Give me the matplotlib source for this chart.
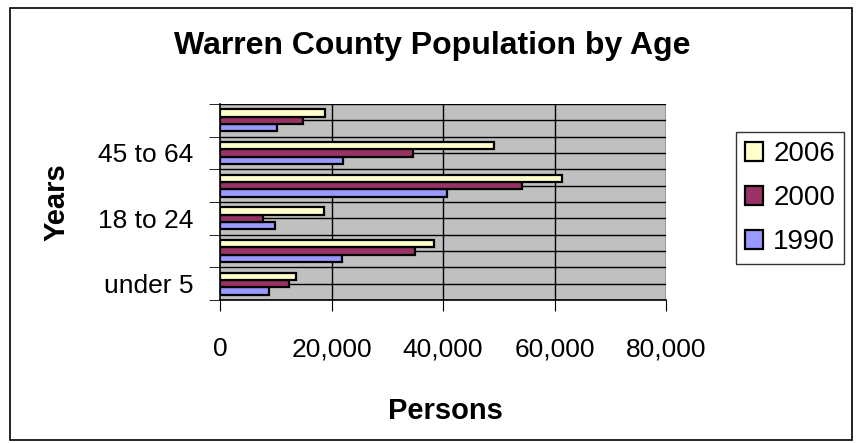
import numpy as np
import matplotlib.pyplot as plt
from matplotlib.patches import Rectangle

plt.rcParams['font.family'] = ['Liberation Sans', 'DejaVu Sans']

# ---- data ----
age_groups = ['under 5', '5 to 17', '18 to 24', '25 to 44', '45 to 64', '65+']
shown_labels = ['under 5', '', '18 to 24', '', '45 to 64', '']
pop_1990 = [8800, 21800, 9900, 40800, 22100, 10300]
pop_2000 = [12400, 35000, 7800, 54200, 34600, 14900]
pop_2006 = [13600, 38400, 18600, 61400, 49100, 18900]
xticks = [0, 20000, 40000, 60000, 80000]

W, H = 857, 443
fig = plt.figure(figsize=(W / 100, H / 100), dpi=100)
ax = fig.add_axes([220 / W, 1 - 300 / H, 446 / W, 196 / H])
ax.set_facecolor('#C0C0C0')

y = np.arange(len(age_groups))
h = 0.225
ax.barh(y - h, pop_1990, height=h, color='#9999FF', edgecolor='black', lw=1.6, label='1990', zorder=3)
ax.barh(y, pop_2000, height=h, color='#993366', edgecolor='black', lw=1.6, label='2000', zorder=3)
ax.barh(y + h, pop_2006, height=h, color='#FFFFCC', edgecolor='black', lw=1.6, label='2006', zorder=3)

ax.set_xlim(0, 80000)
ax.set_ylim(-0.5, len(age_groups) - 0.5)

# grid lines: every half category, plus vertical at x ticks
for g in np.arange(-0.5, len(age_groups), 0.5):
    ax.axhline(g, color='black', lw=1, zorder=1)
for v in xticks[1:]:
    ax.axvline(v, color='black', lw=1, zorder=1)

ax.set_xticks(xticks)
ax.set_xticklabels([f'{v:,}' for v in xticks], fontsize=19)
ax.tick_params(axis='x', length=8, pad=19, direction='out')

ax.set_yticks(y)
ax.set_yticklabels(shown_labels, fontsize=19)
ax.tick_params(axis='y', which='major', length=0, pad=19)
ax.set_yticks(np.arange(-0.5, len(age_groups), 1), minor=True)
ax.tick_params(axis='y', which='minor', length=8)

for s in ['top', 'right']:
    ax.spines[s].set_visible(False)
ax.spines['left'].set_linewidth(1.2)
ax.spines['bottom'].set_linewidth(1.2)

fig.text(445 / W, 1 - 411 / H, 'Persons', ha='center', va='center', fontsize=21, fontweight='bold')
fig.text(57 / W, 1 - 202 / H, 'Years', ha='center', va='center', rotation=90,
         fontsize=21, fontweight='bold')
fig.text(432 / W, 1 - 46 / H, 'Warren County Population by Age', ha='center', va='center',
         fontsize=23, fontweight='bold')

handles, labels = ax.get_legend_handles_labels()
leg = fig.legend(handles[::-1], labels[::-1], loc='upper left',
                 bbox_to_anchor=(736 / W, 1 - 132 / H), borderaxespad=0, fontsize=20,
                 frameon=True, fancybox=False, edgecolor='black',
                 handlelength=0.65, handleheight=0.65, handletextpad=0.36,
                 labelspacing=0.65, borderpad=0.33)
leg.get_frame().set_linewidth(1)

# outer chart frame
fig.patches.append(Rectangle((10 / W, 1 - 440 / H), 842 / W, 432 / H, transform=fig.transFigure,
                             fill=False, edgecolor='black', lw=1.2))

fig.savefig('out.png', dpi=100)
